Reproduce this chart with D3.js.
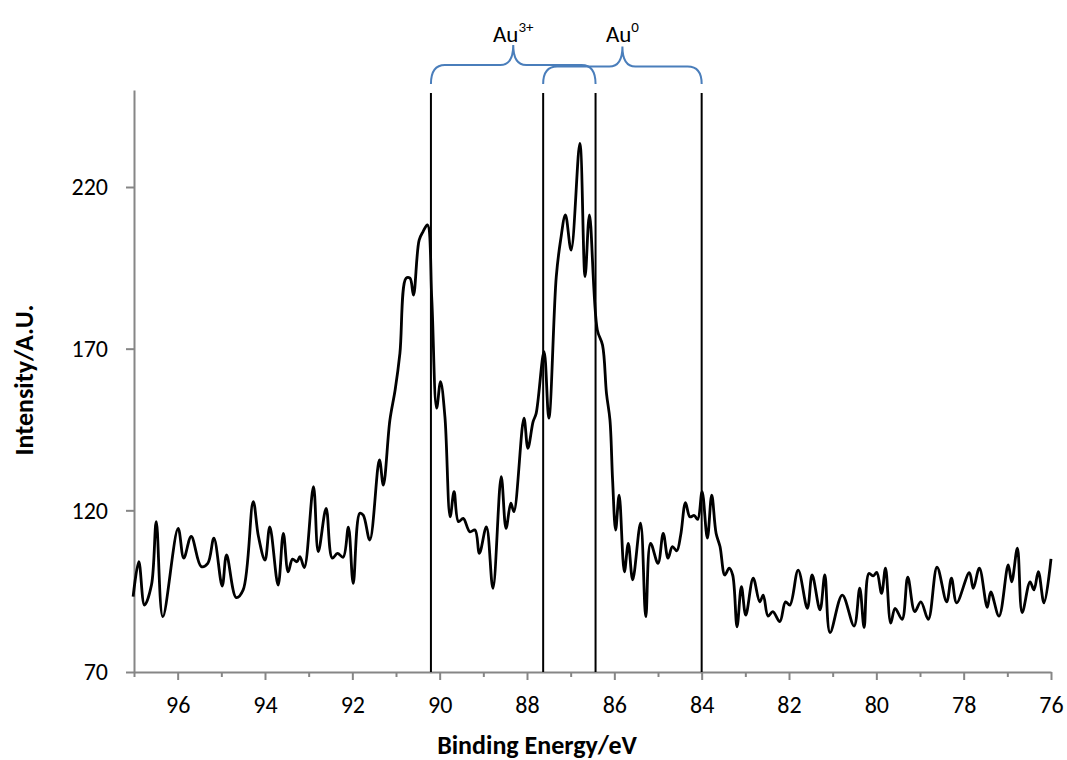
<!DOCTYPE html>
<html>
<head>
<meta charset="utf-8">
<script src="https://cdn.jsdelivr.net/npm/d3@7"></script>
<style>
  html, body { margin: 0; padding: 0; background: #ffffff; }
  svg { display: block; }
  text { font-family: Carlito, Lato, "Open Sans", sans-serif; fill: #000; }
</style>
</head>
<body>
<svg id="chart" width="1067" height="760"></svg>
<script>
// ---- data ----
const energy = [97.02,96.89,96.76,96.60,96.49,96.34,95.99,95.86,95.69,95.46,95.31,95.17,94.98,94.88,94.66,94.50,94.27,94.15,94.00,93.89,93.70,93.58,93.47,93.37,93.27,93.20,93.10,92.89,92.78,92.60,92.46,92.34,92.21,92.09,91.98,91.83,91.75,91.60,91.38,91.29,91.14,91.02,90.91,90.77,90.68,90.60,90.47,90.38,90.28,90.18,90.07,89.98,89.88,89.76,89.67,89.57,89.46,89.31,89.19,89.09,88.93,88.78,88.59,88.48,88.37,88.30,88.07,87.98,87.86,87.79,87.61,87.50,87.33,87.23,87.12,86.99,86.79,86.67,86.57,86.39,86.27,86.18,86.10,86.04,85.97,85.89,85.77,85.68,85.58,85.40,85.28,85.17,85.00,84.88,84.77,84.67,84.57,84.48,84.37,84.27,84.17,84.09,83.99,83.87,83.77,83.67,83.58,83.47,83.37,83.29,83.19,83.09,82.99,82.82,82.67,82.59,82.48,82.37,82.21,82.08,81.98,81.79,81.58,81.47,81.29,81.18,81.06,80.78,80.51,80.38,80.28,80.17,80.07,79.99,79.88,79.79,79.67,79.57,79.41,79.28,79.12,78.98,78.81,78.61,78.39,78.28,78.16,77.87,77.78,77.64,77.46,77.38,77.19,76.98,76.90,76.77,76.66,76.48,76.39,76.29,76.16,76.00];
const intensity = [93.3,104.1,90.7,96.9,116.5,87.1,114.4,105.2,111.9,102.6,103.6,111.4,96.6,106.2,93.0,95.4,122.7,111.9,104.6,114.9,96.9,112.9,101.0,104.9,104.1,105.7,102.3,127.3,107.2,120.6,105.2,106.7,105.5,114.8,97.4,119.1,118.5,110.8,135.6,127.8,147.9,157.2,168.6,191.8,191.8,186.6,203.6,206.2,208.3,185.1,151.6,159.8,149.0,118.0,125.8,116.5,117.5,113.4,113.9,106.7,114.9,95.9,130.4,114.4,122.2,119.6,148.5,139.2,147.4,150.0,169.1,148.5,192.2,203.6,211.4,200.5,233.5,192.3,211.4,175.8,171.1,156.2,147.9,129.4,113.9,124.7,101.0,109.8,98.5,116.0,87.1,109.8,103.6,112.9,105.2,108.8,107.5,112.4,122.4,118.0,118.4,117.2,125.8,111.4,124.7,112.9,108.8,100.0,102.1,100.0,84.0,96.4,87.6,99.0,91.7,93.8,87.3,88.7,85.6,91.7,90.7,101.5,89.7,100.0,89.2,100.0,82.2,93.8,84.2,95.9,83.8,100.5,99.7,100.8,94.3,102.1,85.1,89.7,86.3,99.3,88.7,91.7,86.3,102.4,91.7,99.0,91.4,100.7,95.9,102.1,90.0,94.8,87.3,103.1,97.9,108.3,88.4,97.9,95.4,101.0,91.4,105.0];
const xTicks = [96,94,92,90,88,86,84,82,80,78,76];
const xMinorTicks = [97,95,93,91,89,87,85,83,81,79,77];
const yTicks = [70,120,170,220];
const markerLines = [90.2,87.63,86.43,84.0];
const braces = [
  {from: 90.2, to: 86.43, label: "Au", sup: "3+"},
  {from: 87.63, to: 84.0, label: "Au", sup: "0"}
];
const xTitle = "Binding Energy/eV";
const yTitle = "Intensity/A.U.";

// ---- layout ----
const svg = d3.select("#chart");
const plotL = 134, plotR = 1051, plotT = 90, plotB = 672;
const x = d3.scaleLinear().domain([97, 76]).range([plotL, plotR]);
const y = d3.scaleLinear().domain([70, 250]).range([plotB, plotT]);
const axisColor = "#868686";
const tickFont = 24;

// axes
const xAxis = svg.append("g").attr("transform", `translate(0,${plotB})`)
  .call(d3.axisBottom(x).tickValues(xTicks).tickSize(8).tickSizeOuter(0).tickPadding(16).tickFormat(d3.format("d")));
const xMinor = svg.append("g").attr("transform", `translate(0,${plotB})`)
  .call(d3.axisBottom(x).tickValues(xMinorTicks).tickSize(5).tickSizeOuter(0).tickFormat(""));
xMinor.select(".domain").remove();
const yAxis = svg.append("g").attr("transform", `translate(${plotL},0)`)
  .call(d3.axisLeft(y).tickValues(yTicks).tickSize(8).tickSizeOuter(0).tickPadding(18).tickFormat(d3.format("d")));

[xAxis, xMinor, yAxis].forEach(g => {
  g.selectAll(".domain").attr("stroke", axisColor).attr("stroke-width", 2);
  g.selectAll(".tick line").attr("stroke", axisColor).attr("stroke-width", 2);
  g.selectAll(".tick text").attr("font-size", tickFont).attr("fill", "#000")
    .style("font-family", "Carlito, Lato, 'Open Sans', sans-serif");
});

// marker lines
svg.append("g").selectAll("line").data(markerLines).join("line")
  .attr("x1", d => x(d)).attr("x2", d => x(d))
  .attr("y1", 93).attr("y2", plotB)
  .attr("stroke", "#000").attr("stroke-width", 2);

// data line
const line = d3.line()
  .x((d, i) => x(energy[i]))
  .y(d => y(d))
  .curve(d3.curveCatmullRom.alpha(0.5));
svg.append("path").datum(intensity)
  .attr("d", line)
  .attr("fill", "none")
  .attr("stroke", "#000")
  .attr("stroke-width", 2.8)
  .attr("stroke-linejoin", "round");

// braces
const braceG = svg.append("g");
braces.forEach((b, i) => {
  const xa = x(b.from), xb = x(b.to), xm = (xa + xb) / 2;
  const yb = 84, yf = 65 + i * 1.5, yp = 45 + i * 1.5, r = 14, r2 = 13;
  const p = `M${xa},${yb} Q${xa},${yf} ${xa + r},${yf} L${xm - r2},${yf} Q${xm},${yf} ${xm},${yp} ` +
            `M${xm},${yp} Q${xm},${yf} ${xm + r2},${yf} L${xb - r},${yf} Q${xb},${yf} ${xb},${yb}`;
  braceG.append("path").attr("d", p).attr("fill", "none")
    .attr("stroke", "#4a7ebb").attr("stroke-width", 2);
  const t = svg.append("text").attr("x", xm).attr("y", 42)
    .attr("text-anchor", "middle").attr("font-size", 23);
  t.append("tspan").text(b.label);
  t.append("tspan").text(b.sup).attr("font-size", 15).attr("dy", -10);
});

// titles
svg.append("text").attr("x", 537).attr("y", 754).attr("text-anchor", "middle")
  .attr("font-size", 26).attr("font-weight", "bold").text(xTitle);
svg.append("text").attr("transform", "translate(33,380) rotate(-90)").attr("text-anchor", "middle")
  .attr("font-size", 26).attr("font-weight", "bold").text(yTitle);
</script>
</body>
</html>
